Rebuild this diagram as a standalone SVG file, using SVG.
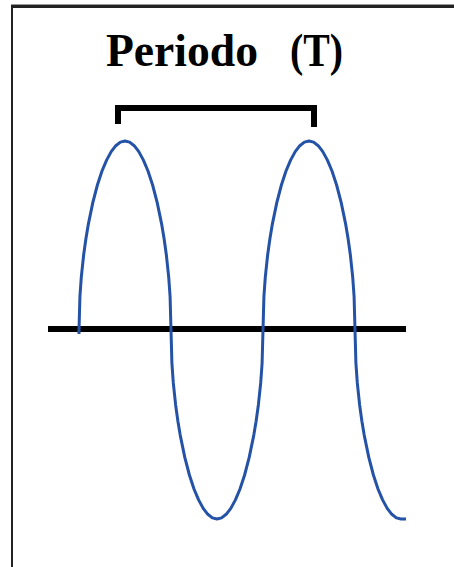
<svg xmlns="http://www.w3.org/2000/svg" width="454" height="567" viewBox="0 0 454 567">
<style>
.frame{fill:#222}
.title{font-family:"Liberation Serif","Times New Roman",serif;font-weight:bold;font-size:47px;fill:#000}
.wave{fill:none;stroke:#2452a6;stroke-width:3;stroke-linecap:butt;stroke-linejoin:round}
.bracket{fill:none;stroke:#000;stroke-width:6;stroke-linejoin:miter}
</style>
<rect width="454" height="567" fill="#fff"/>
<g id="frame">
<rect x="11" y="4" width="443" height="1" fill="#9a9a9a"/>
<rect class="frame" x="11" y="5" width="443" height="3"/>
<rect class="frame" x="11" y="5" width="2" height="562"/>
</g>
<g id="title">
<text class="title" y="66"><tspan x="106" textLength="152" lengthAdjust="spacingAndGlyphs">Periodo</tspan><tspan x="290" textLength="53" lengthAdjust="spacingAndGlyphs">(T)</tspan></text>
</g>
<g id="bracket">
<path class="bracket" d="M118,124 V108 H314 V127"/>
</g>
<g id="axis">
<rect x="48" y="326" width="358" height="6" fill="#000"/>
</g>
<g id="wave">
<path class="wave" d="M79,334 L79,330 79.92,296.5 81.3,277.1 83.6,255.3 85.9,238.7 88.2,224.9 92.8,202.6 97.4,185 102,171 106.6,160.1 111.2,151.6 115.8,145.7 120.4,142.1 125,141 129.6,142.1 134.2,145.7 138.8,151.6 143.4,160.1 148,171 152.6,185 157.2,202.6 161.8,224.9 164.1,238.7 166.4,255.3 168.7,277.1 170.08,296.5 171,330 171.92,363.5 173.3,382.9 175.6,404.7 177.9,421.3 180.2,435.1 184.8,457.4 189.4,475 194,489 198.6,499.9 203.2,508.4 207.8,514.3 212.4,517.9 217,519 221.6,517.9 226.2,514.3 230.8,508.4 235.4,499.9 240,489 244.6,475 249.2,457.4 253.8,435.1 256.1,421.3 258.4,404.7 260.7,382.9 262.08,363.5 263,330 263.92,296.5 265.3,277.1 267.6,255.3 269.9,238.7 272.2,224.9 276.8,202.6 281.4,185 286,171 290.6,160.1 295.2,151.6 299.8,145.7 304.4,142.1 309,141 313.6,142.1 318.2,145.7 322.8,151.6 327.4,160.1 332,171 336.6,185 341.2,202.6 345.8,224.9 348.1,238.7 350.4,255.3 352.7,277.1 354.08,296.5 355,330 355.92,363.5 357.3,382.9 359.6,404.7 361.9,421.3 364.2,435.1 368.8,457.4 373.4,475 378,489 382.6,499.9 387.2,508.4 391.8,514.3 396.4,517.9 401,519 406,519"/>
</g>
</svg>
